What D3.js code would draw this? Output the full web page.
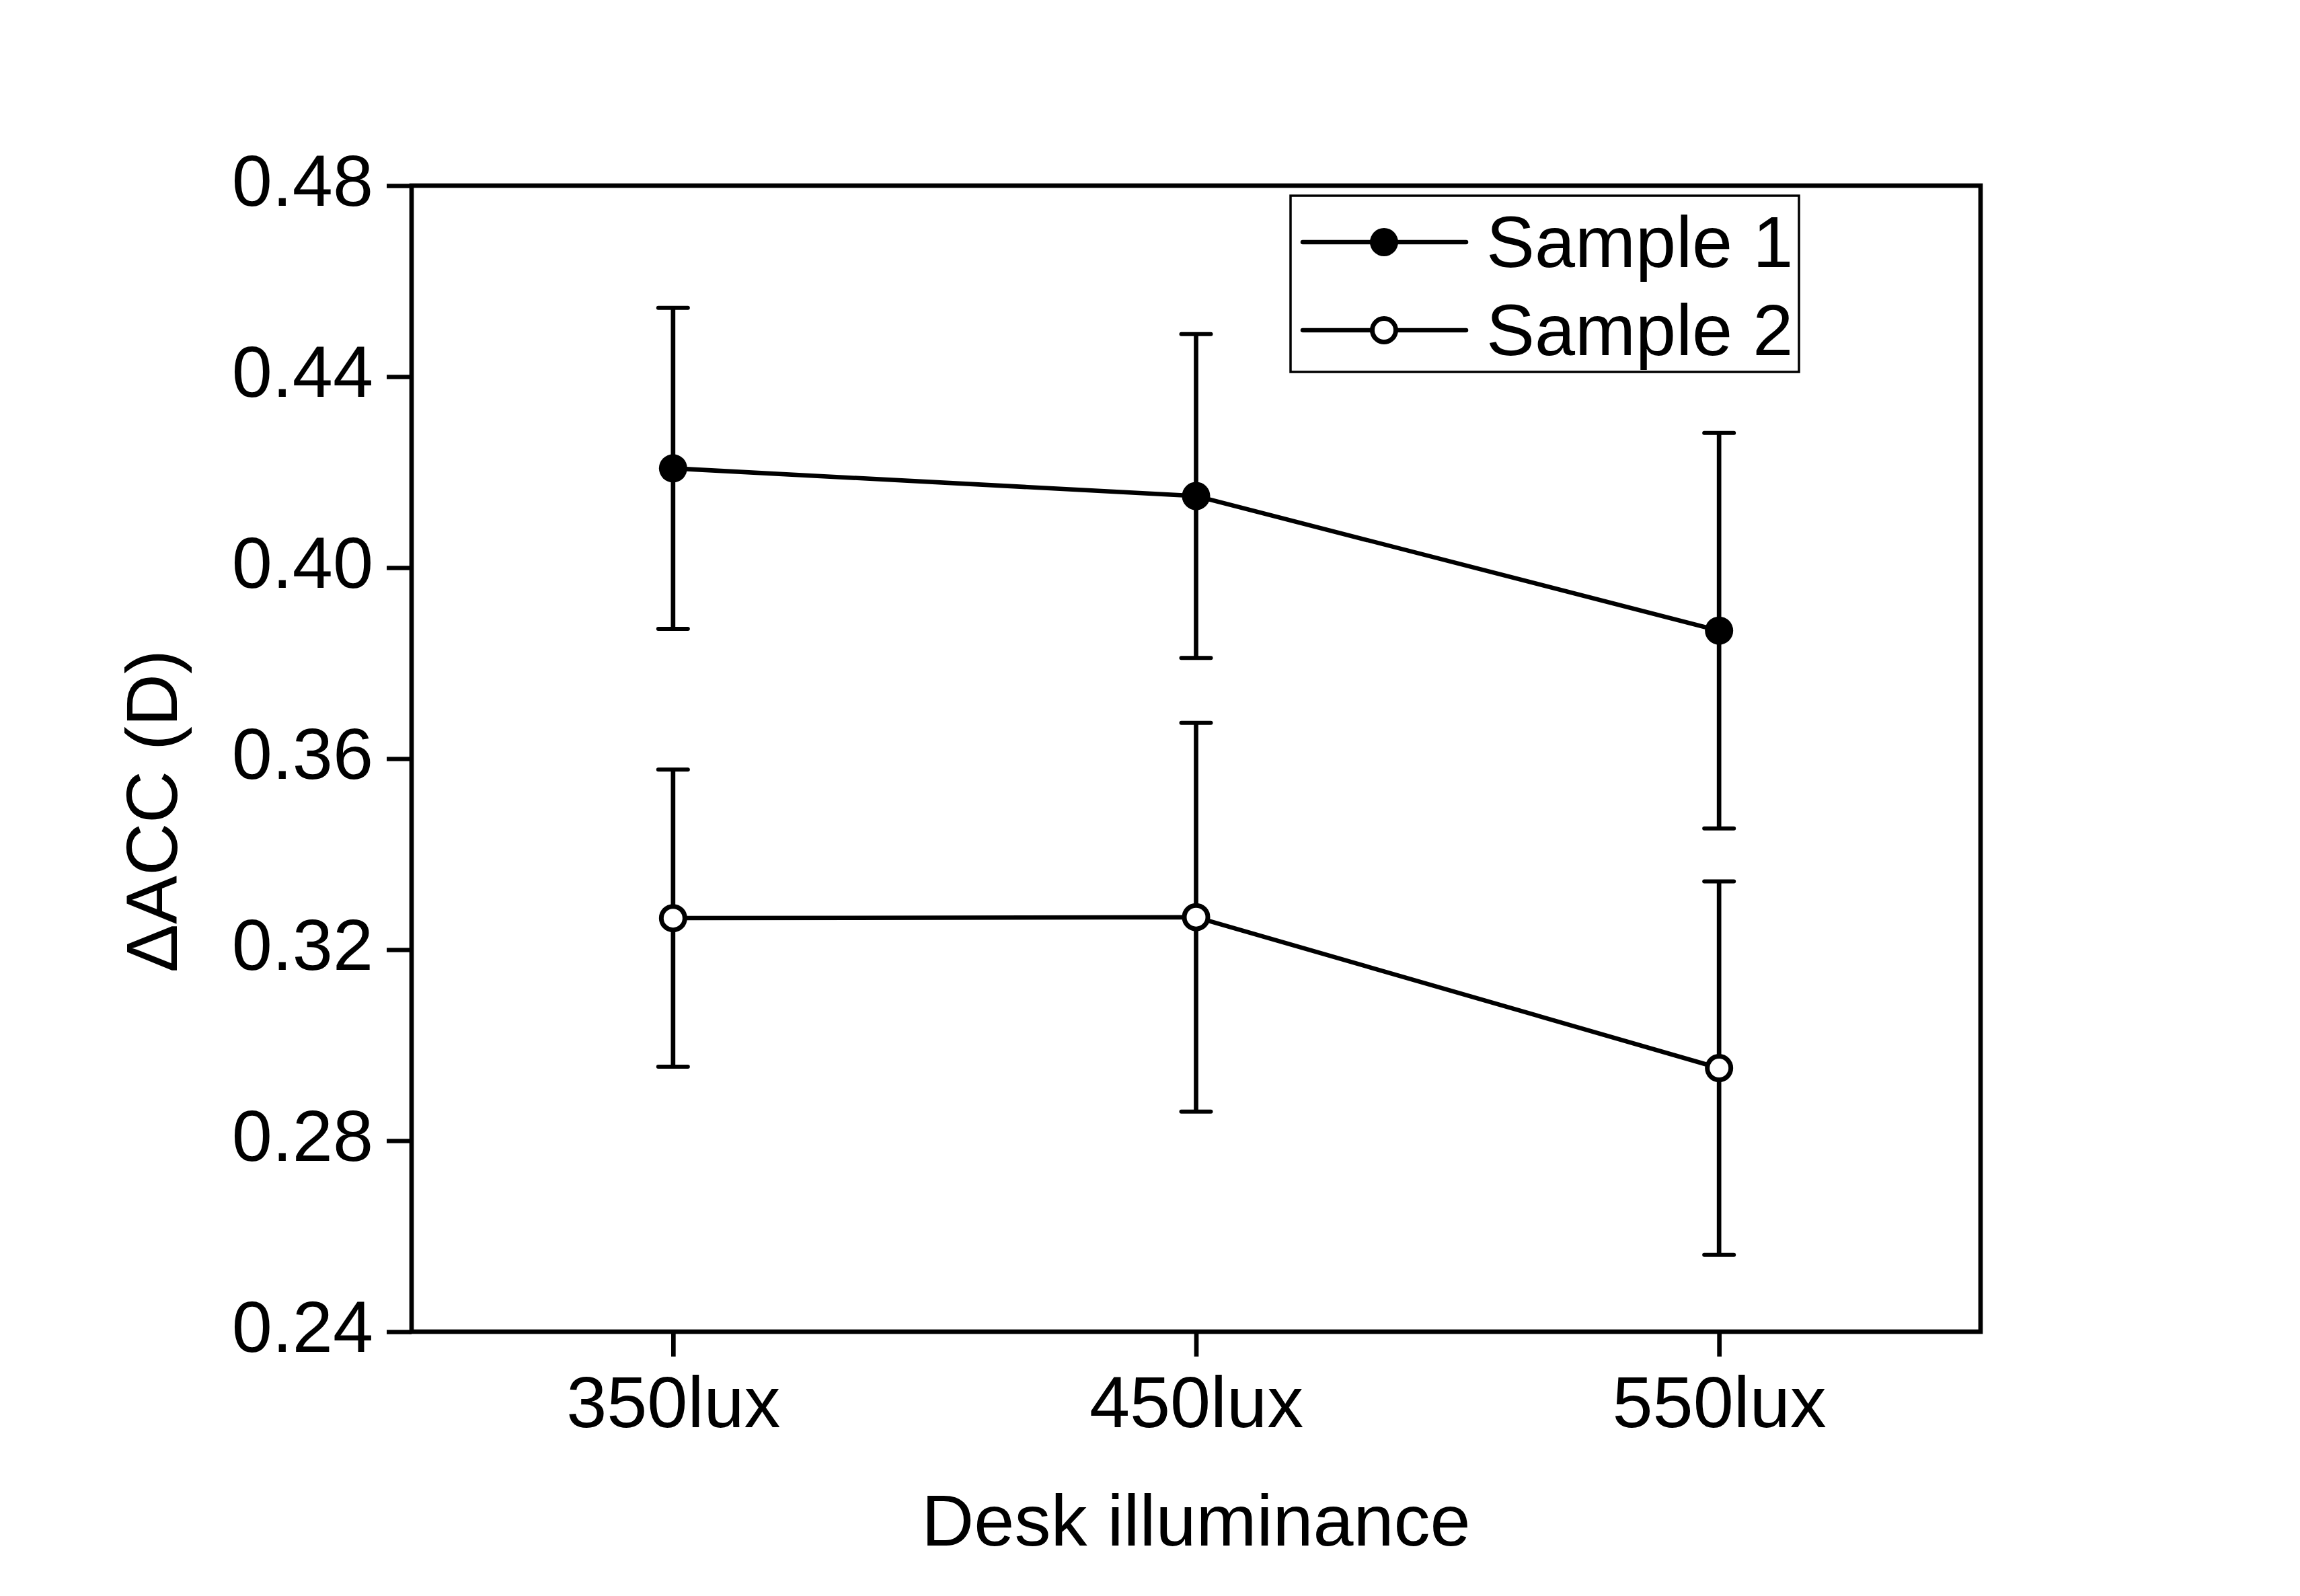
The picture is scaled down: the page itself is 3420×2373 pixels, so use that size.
<!DOCTYPE html>
<html><head><meta charset="utf-8">
<script src="https://cdn.jsdelivr.net/npm/d3@7"></script>
<style>body{margin:0;background:#fff}</style>
</head><body>
<svg id="chart" width="3420" height="2373"></svg>
<script>
const categories = ["350lux", "450lux", "550lux"];
const seriesNames = ["Sample 1", "Sample 2"];
const sample1Mean = [0.4208, 0.4150, 0.3868];
const sample1Err  = [0.0336, 0.0339, 0.0414];
const sample2Mean = [0.3266, 0.3268, 0.2952];
const sample2Err  = [0.0311, 0.0407, 0.0391];
const yTicks = [0.24, 0.28, 0.32, 0.36, 0.40, 0.44, 0.48];
const yDomain = [0.24, 0.48];
const xTitle = "Desk illuminance";
const yTitle = "\u0394ACC (D)";

const FONT = "'Liberation Sans', Arial, sans-serif";
const FS = 108;
const L = 612, R = 2945, T = 276, B = 1980;
const SW = 6.7;

const svg = d3.select("#chart");
svg.append("rect").attr("width", 3420).attr("height", 2373).attr("fill", "#fff");

const x = d3.scalePoint().domain(categories).range([L, R]).padding(0.5);
const y = d3.scaleLinear().domain(yDomain).range([B, T]);

// axes
const yAxis = d3.axisLeft(y).tickValues(yTicks).tickFormat(d3.format(".2f"))
  .tickSize(37).tickSizeOuter(0).tickPadding(20);
const gy = svg.append("g").attr("transform", `translate(${L},0)`).call(yAxis);
gy.select(".domain").remove();
gy.selectAll(".tick line").attr("stroke", "#000").attr("stroke-width", SW);
gy.selectAll(".tick text").attr("font-family", FONT).attr("font-size", FS)
  .attr("fill", "#000").attr("dy", "0.27em");

const xAxis = d3.axisBottom(x).tickSize(37).tickSizeOuter(0).tickPadding(28);
const gx = svg.append("g").attr("transform", `translate(0,${B})`).call(xAxis);
gx.select(".domain").remove();
gx.selectAll(".tick line").attr("stroke", "#000").attr("stroke-width", SW);
gx.selectAll(".tick text").attr("font-family", FONT).attr("font-size", FS)
  .attr("fill", "#000");

// frame
svg.append("rect").attr("x", L).attr("y", T).attr("width", R - L).attr("height", B - T)
  .attr("fill", "none").attr("stroke", "#000").attr("stroke-width", SW);

// titles
svg.append("text").attr("x", (L + R) / 2).attr("y", 2298).attr("text-anchor", "middle")
  .attr("font-family", FONT).attr("font-size", FS).text(xTitle);
svg.append("text").attr("transform", "translate(263,1206) rotate(-90)")
  .attr("text-anchor", "middle").attr("font-family", FONT).attr("font-size", FS).text(yTitle);

const series = [
  { name: seriesNames[0], mean: sample1Mean, err: sample1Err, filled: true },
  { name: seriesNames[1], mean: sample2Mean, err: sample2Err, filled: false }
];

const line = d3.line().x((d, i) => x(categories[i])).y(d => y(d));
const capW = 22;

series.forEach(s => {
  const g = svg.append("g");
  // error bars
  s.mean.forEach((m, i) => {
    const cx = x(categories[i]);
    const hi = y(m + s.err[i]), lo = y(m - s.err[i]);
    g.append("line").attr("x1", cx).attr("x2", cx).attr("y1", hi).attr("y2", lo)
      .attr("stroke", "#000").attr("stroke-width", SW);
    [hi, lo].forEach(yy => g.append("line").attr("x1", cx - capW).attr("x2", cx + capW)
      .attr("y1", yy).attr("y2", yy).attr("stroke", "#000").attr("stroke-width", 6)
      .attr("stroke-linecap", "round"));
  });
  g.append("path").attr("d", line(s.mean)).attr("fill", "none")
    .attr("stroke", "#000").attr("stroke-width", 6.5);
  g.selectAll("circle").data(s.mean).join("circle")
    .attr("cx", (d, i) => x(categories[i])).attr("cy", d => y(d))
    .attr("r", s.filled ? 21 : 17.5)
    .attr("fill", s.filled ? "#000" : "#fff")
    .attr("stroke", "#000").attr("stroke-width", s.filled ? 0 : 7);
});

// legend
const lg = svg.append("g");
lg.append("rect").attr("x", 1919).attr("y", 291).attr("width", 756).attr("height", 262)
  .attr("fill", "#fff").attr("stroke", "#000").attr("stroke-width", 3.5);
series.forEach((s, i) => {
  const ly = 360 + i * 131;
  lg.append("line").attr("x1", 1937).attr("x2", 2180).attr("y1", ly).attr("y2", ly)
    .attr("stroke", "#000").attr("stroke-width", 6.5).attr("stroke-linecap", "round");
  lg.append("circle").attr("cx", 2058).attr("cy", ly).attr("r", s.filled ? 21 : 17.5)
    .attr("fill", s.filled ? "#000" : "#fff").attr("stroke", "#000")
    .attr("stroke-width", s.filled ? 0 : 7);
  lg.append("text").attr("x", 2210).attr("y", ly + 37).attr("font-family", FONT)
    .attr("font-size", FS).text(s.name);
});
</script>
</body></html>
